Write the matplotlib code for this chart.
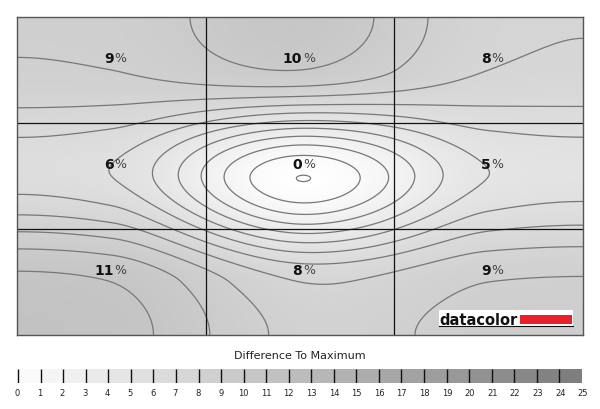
import numpy as np
import matplotlib
matplotlib.use("Agg")
import matplotlib.pyplot as plt
from matplotlib.colors import LinearSegmentedColormap
from matplotlib.patches import Rectangle

# uniformity deviation per zone (%), rows top -> bottom
row_top = [9, 10, 8]
row_mid = [6, 0, 5]
row_bot = [11, 8, 9]
scale_ticks = list(range(0, 26))
scale_title = "Difference To Maximum"

values = np.array([row_top, row_mid, row_bot], dtype=float)

cmap = LinearSegmentedColormap.from_list("gray_dev", ["#ffffff", "#7e7e7e"])


def smooth_1d(v, t):
    # cubic hermite through the 3 zone centres, flattening out towards the edges
    m = [0.35 * (v[1] - v[0]), 0.5 * (v[2] - v[0]), 0.35 * (v[2] - v[1])]
    pos = 3 * t - 0.5          # 0, 1, 2 at the zone centres
    out = np.empty_like(t)
    for i, p in enumerate(pos):
        if p <= 0:
            q = -p
            out[i] = v[0] - m[0] * (q - q * q)
        elif p >= 2:
            q = p - 2
            out[i] = v[2] + m[2] * (q - q * q)
        else:
            j = min(int(p), 1)
            s = p - j
            h00 = 2 * s ** 3 - 3 * s ** 2 + 1
            h10 = s ** 3 - 2 * s ** 2 + s
            h01 = -2 * s ** 3 + 3 * s ** 2
            h11 = s ** 3 - s ** 2
            out[i] = h00 * v[j] + h10 * m[j] + h01 * v[j + 1] + h11 * m[j + 1]
    return out


xs = np.linspace(0, 1, 500)
ys = np.linspace(0, 1, 320)
rows = np.array([smooth_1d(r, xs) for r in values])          # 3 x nx
field = np.array([smooth_1d(rows[:, c], ys) for c in range(len(xs))]).T  # ny x nx
lo = field.min()

fig = plt.figure(figsize=(6, 4.1), dpi=100)
ax = fig.add_axes([17 / 600, 1 - 336 / 410, 566 / 600, 318 / 410])
ax.imshow(field, cmap=cmap, vmin=0, vmax=25, extent=[0, 1, 1, 0],
          aspect="auto", interpolation="bilinear")
X, Y = np.meshgrid(xs, ys)
ax.contour(X, Y, field, levels=[lo + 0.02] + list(range(1, 13)),
           colors="#777777", linewidths=0.9)
ax.set_xlim(0, 1)
ax.set_ylim(1, 0)
for p in (1 / 3, 2 / 3):
    ax.axvline(p, color="#111111", lw=0.9)
    ax.axhline(p, color="#111111", lw=0.9)
ax.set_xticks([])
ax.set_yticks([])
for s in ax.spines.values():
    s.set_color("#555555")
    s.set_linewidth(1)

for r in range(3):
    for c in range(3):
        cx = (c + 0.5) / 3
        cy = (r + 0.5) / 3 - 0.038
        ax.text(cx + 0.004, cy, f"{int(values[r, c])}", ha="right", va="center",
                fontsize=10, fontweight="bold", color="#111111")
        ax.text(cx + 0.005, cy, "%", ha="left", va="center",
                fontsize=9, color="#444444")

# datacolor logo (axes coords, y measured from the bottom)
ax.add_patch(Rectangle((0.745, 0.025), 0.237, 0.055, transform=ax.transAxes,
                       facecolor="white", lw=0, zorder=4))
ax.text(0.747, 0.036, "datacolor", transform=ax.transAxes, ha="left",
        va="baseline", fontsize=10.5, fontweight="bold", color="#111111",
        zorder=5)
ax.add_patch(Rectangle((0.889, 0.036), 0.092, 0.028, transform=ax.transAxes,
                       facecolor="#e8202a", lw=0, zorder=5))
ax.plot([0.745, 0.982], [0.027, 0.027], transform=ax.transAxes,
        color="#111111", lw=0.8, zorder=5)

# scale bar
fig.text(0.5, 1 - 356 / 410, scale_title, ha="center", va="center",
         fontsize=8, color="#222222")
cax = fig.add_axes([17 / 600, 1 - 384 / 410, 566 / 600, 14 / 410])
seg = np.array(scale_ticks[1:], dtype=float)
cax.pcolormesh(np.array(scale_ticks), [0, 1], seg[None, :], cmap=cmap,
               vmin=0, vmax=25)
cax.vlines(scale_ticks[:-1], 0, 1, color="#111111", lw=1)
cax.set_xlim(-0.05, 25.05)
cax.set_ylim(0, 1)
cax.axis("off")
for t in scale_ticks:
    fig.text((17 + t * 566 / 25) / 600, 1 - 394 / 410, str(t), ha="center",
             va="center", fontsize=6, color="#222222")

fig.savefig("out.png", dpi=100)
